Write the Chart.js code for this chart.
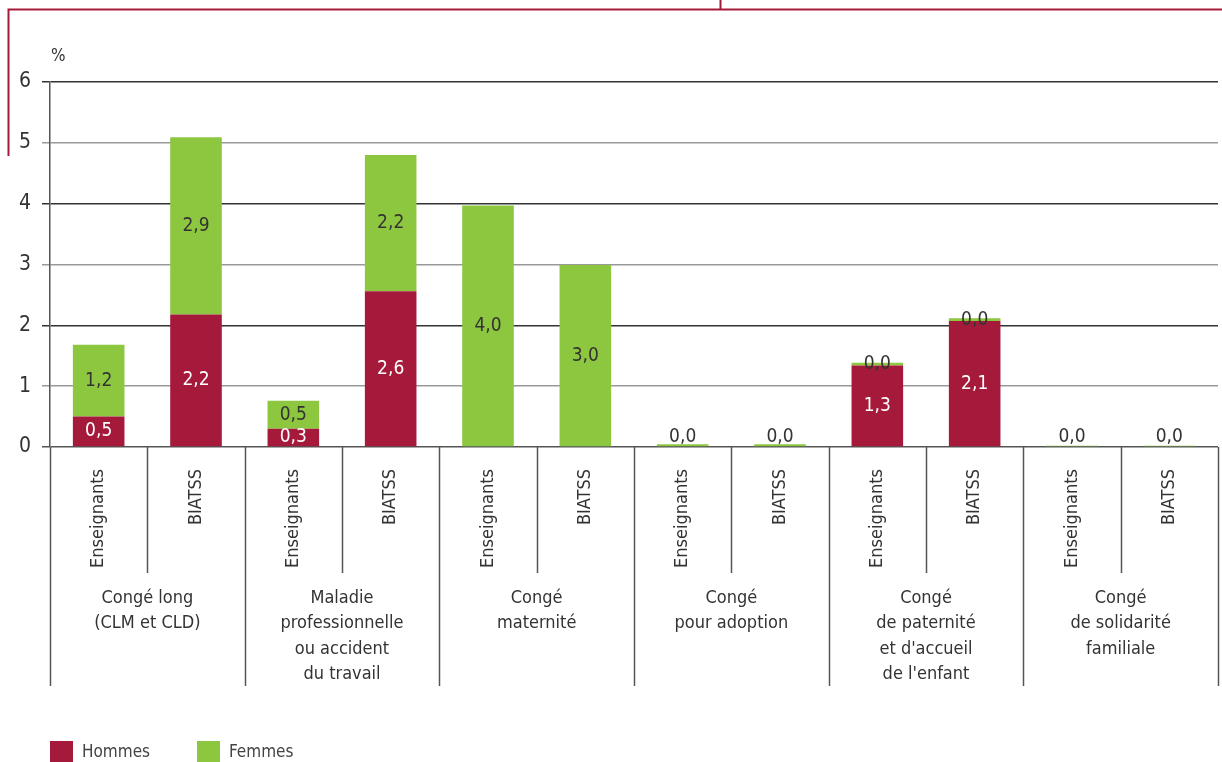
<!DOCTYPE html>
<html>
<head>
<meta charset="utf-8">
<script src="https://cdn.jsdelivr.net/npm/chart.js@4.4.1/dist/chart.umd.min.js"></script>
<style>
  html, body { margin: 0; padding: 0; background: #fff; }
  #wrap { width: 1222px; height: 762px; position: relative; }
</style>
</head>
<body>
<div id="wrap"><canvas id="chart"></canvas></div>
<script>
// categories: one bar per staff type inside each kind of leave
const staff = ['Enseignants', 'BIATSS', 'Enseignants', 'BIATSS', 'Enseignants', 'BIATSS',
  'Enseignants', 'BIATSS', 'Enseignants', 'BIATSS', 'Enseignants', 'BIATSS'];
const groups = [
  ['Congé long', '(CLM et CLD)'],
  ['Maladie', 'professionnelle', 'ou accident', 'du travail'],
  ['Congé', 'maternité'],
  ['Congé', 'pour adoption'],
  ['Congé', 'de paternité', "et d'accueil", "de l'enfant"],
  ['Congé', 'de solidarité', 'familiale']
];
// values in %
const hommes = [0.5, 2.18, 0.3, 2.56, null, null, null, null, 1.34, 2.07, null, null];
const femmes = [1.18, 2.91, 0.46, 2.24, 3.97, 2.99, 0.045, 0.045, 0.045, 0.045, 0.02, 0.02];
const yTicks = [0, 1, 2, 3, 4, 5, 6];

const RED = '#a51a3b';
const GREEN = '#8dc63f';
const TEXT = '#333333';
const FONT = '"Liberation Sans Narrow", "DejaVu Sans Condensed", "Roboto", sans-serif';

const decorations = {
  id: 'decorations',
  afterDatasetsDraw(chart) {
    const ctx = chart.ctx;
    const area = chart.chartArea;

    // value labels on each segment
    ctx.save();
    ctx.font = '19px ' + FONT;
    ctx.textAlign = 'center';
    ctx.textBaseline = 'middle';
    chart.data.datasets.forEach((ds, di) => {
      const meta = chart.getDatasetMeta(di);
      meta.data.forEach((bar, i) => {
        const v = ds.data[i];
        if (v === null) return;
        const cy = Math.min((bar.y + bar.base) / 2, area.bottom - 10);
        ctx.fillStyle = di === 0 ? '#ffffff' : TEXT;
        ctx.fillText(v.toFixed(1).replace('.', ','), bar.x, cy);
      });
    });
    ctx.restore();
  },
  afterDraw(chart) {
    const ctx = chart.ctx;
    const area = chart.chartArea;
    const x = chart.scales.x;
    const slot = (area.right - area.left) / staff.length;

    ctx.save();
    // separators under the axis
    ctx.strokeStyle = '#555';
    ctx.lineWidth = 1.5;
    for (let i = 0; i <= staff.length; i++) {
      const px = Math.round(area.left + i * slot) + 0.5;
      const bottom = i % 2 === 0 ? 686 : 573;
      ctx.beginPath();
      ctx.moveTo(px, area.bottom);
      ctx.lineTo(px, bottom);
      ctx.stroke();
    }

    // rotated staff labels
    ctx.fillStyle = TEXT;
    ctx.font = '18px ' + FONT;
    ctx.textAlign = 'right';
    ctx.textBaseline = 'middle';
    staff.forEach((s, i) => {
      ctx.save();
      ctx.translate(x.getPixelForValue(i), 469);
      ctx.rotate(-Math.PI / 2);
      ctx.fillText(s, 0, 0);
      ctx.restore();
    });

    // group labels
    ctx.textAlign = 'center';
    ctx.textBaseline = 'middle';
    groups.forEach((lines, g) => {
      const cx = area.left + (g * 2 + 1) * slot;
      lines.forEach((line, k) => {
        ctx.fillText(line, cx, 598 + k * 25.5);
      });
    });

    // unit
    ctx.font = '17px ' + FONT;
    ctx.textAlign = 'left';
    ctx.fillText('%', 51, 57);

    // legend
    ctx.fillStyle = RED;
    ctx.fillRect(50, 741, 23, 21);
    ctx.fillStyle = GREEN;
    ctx.fillRect(197, 741, 23, 21);
    ctx.fillStyle = '#444';
    ctx.font = '17px ' + FONT;
    ctx.fillText('Hommes', 82, 753);
    ctx.fillText('Femmes', 229, 753);

    // frame
    ctx.strokeStyle = RED;
    ctx.lineWidth = 2;
    ctx.beginPath();
    ctx.moveTo(8.5, 156);
    ctx.lineTo(8.5, 9.5);
    ctx.lineTo(1222, 9.5);
    ctx.moveTo(720.5, 0);
    ctx.lineTo(720.5, 9.5);
    ctx.stroke();
    ctx.restore();
  }
};

new Chart(document.getElementById('chart'), {
  type: 'bar',
  data: {
    labels: staff,
    datasets: [
      { label: 'Hommes', data: hommes, backgroundColor: RED, barPercentage: 0.53, categoryPercentage: 1 },
      { label: 'Femmes', data: femmes, backgroundColor: GREEN, barPercentage: 0.53, categoryPercentage: 1 }
    ]
  },
  options: {
    responsive: true,
    maintainAspectRatio: false,
    animation: false,
    layout: { padding: { left: 0, right: 4, top: 82, bottom: 315 } },
    plugins: {
      legend: { display: false },
      tooltip: { enabled: false }
    },
    scales: {
      x: {
        stacked: true,
        display: false
      },
      y: {
        stacked: true,
        min: 0,
        max: 6,
        afterFit: (scale) => { scale.width = 50; },
        afterBuildTicks: (scale) => { scale.ticks = yTicks.map((v) => ({ value: v })); },
        border: { display: true, color: '#555', width: 1.5 },
        grid: {
          color: (c) => c.tick.value === 0 ? '#555' : (c.tick.value % 2 === 0 ? '#333' : '#999'),
          lineWidth: 1.5,
          tickLength: 8,
          drawTicks: true
        },
        ticks: {
          color: TEXT,
          padding: 11,
          font: { family: FONT, size: 21 },
          callback: (v) => String(v)
        }
      }
    }
  },
  plugins: [decorations]
});
</script>
</body>
</html>
